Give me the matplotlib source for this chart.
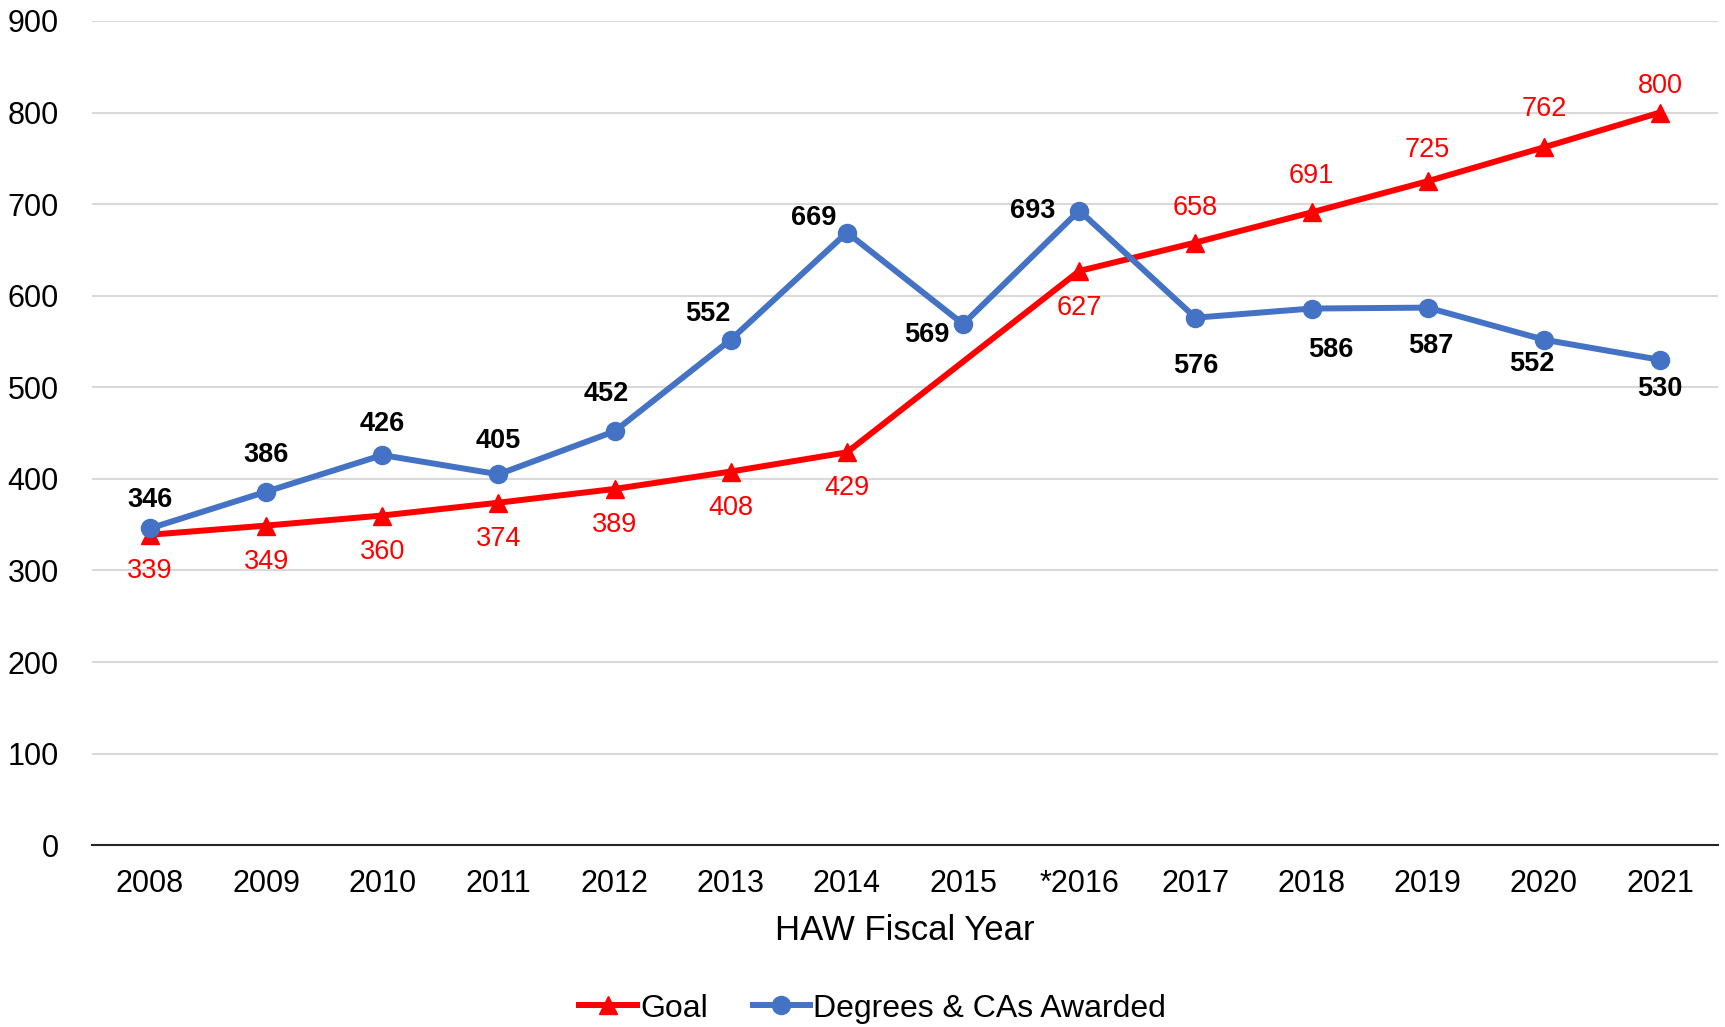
import numpy as np
import matplotlib
matplotlib.use("Agg")
import matplotlib.pyplot as plt

plt.rcParams["font.family"] = ["Liberation Sans", "DejaVu Sans"]

# Data
years = ["2008", "2009", "2010", "2011", "2012", "2013", "2014",
         "2015", "*2016", "2017", "2018", "2019", "2020", "2021"]
goal = [339, 349, 360, 374, 389, 408, 429, np.nan, 627, 658, 691, 725, 762, 800]
awarded = [346, 386, 426, 405, 452, 552, 669, 569, 693, 576, 586, 587, 552, 530]

# label offsets in pixels (dx, dy)
awarded_off = [(0, 28), (0, 37), (0, 31), (0, 33), (-8, 37), (-23, 26), (-33, 15),
               (-36, -11), (-47, 0), (0, -48), (19, -41), (3, -38), (-12, -24), (0, -29)]
goal_off = [(0, -36)] * 7 + [(0, 0), (0, -37), (0, 35), (0, 36), (0, 31), (0, 38), (0, 27)]

RED = "#FF0000"
BLUE = "#4472C4"

fig = plt.figure(figsize=(17.25, 10.27), dpi=100)
ax = fig.add_axes([0.0533, 0.177, 0.9427, 0.8026])

x = np.arange(len(years))
g = np.array(goal, dtype=float)
ok = ~np.isnan(g)

ax.plot(x[ok], g[ok], color=RED, lw=4.3, marker="^", ms=13, label="Goal", zorder=3)
ax.plot(x, awarded, color=BLUE, lw=4.3, marker="o", ms=13,
        label="Degrees & CAs Awarded", zorder=4)

for i, v in enumerate(goal):
    if np.isnan(v):
        continue
    ax.annotate(str(int(v)), (x[i], v), xytext=goal_off[i], textcoords="offset pixels",
                ha="center", va="center", fontsize=19.5, color=RED)
for i, v in enumerate(awarded):
    ax.annotate(str(v), (x[i], v), xytext=awarded_off[i], textcoords="offset pixels",
                ha="center", va="center", fontsize=19.5, color="black", fontweight="bold")

ax.set_xlim(-0.5, len(years) - 0.5)
ax.set_ylim(0, 900)
ax.set_yticks(range(0, 901, 100))
ax.set_xticks(x)
ax.set_xticklabels(years)
ax.tick_params(axis="both", length=0, labelsize=22)
ax.tick_params(axis="x", pad=17)
ax.tick_params(axis="y", pad=24)
ax.grid(axis="y", color="#D9D9D9", lw=1.5)
ax.set_axisbelow(True)
for s in ["top", "right", "left"]:
    ax.spines[s].set_visible(False)
ax.spines["bottom"].set_color("#262626")
ax.spines["bottom"].set_linewidth(1.5)

ax.set_xlabel("HAW Fiscal Year", fontsize=25, labelpad=11)

fig.legend(loc="center", bbox_to_anchor=(0.506, 0.018), ncol=2, frameon=False,
           fontsize=23, handlelength=1.8, handletextpad=0.1, columnspacing=1.4)

fig.savefig("out.png", dpi=100)
